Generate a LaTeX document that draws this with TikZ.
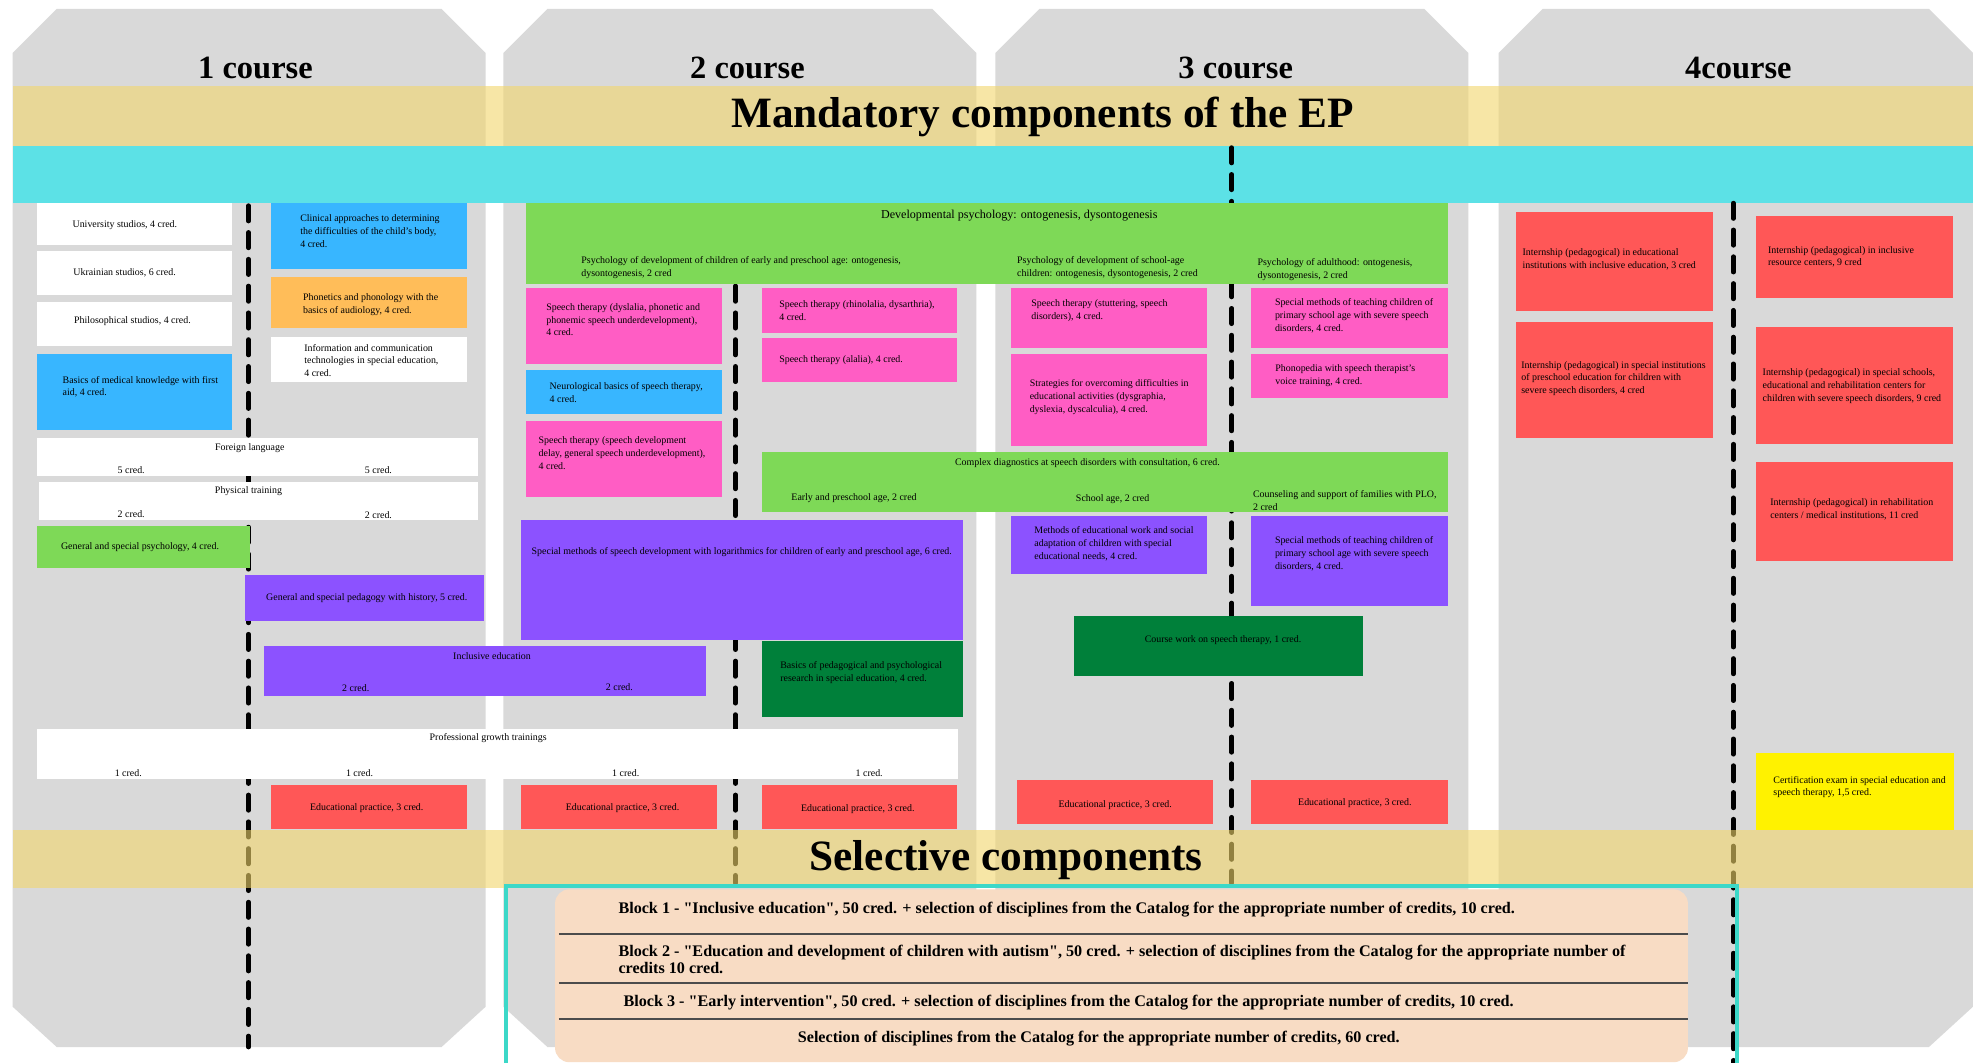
\documentclass[tikz,border=0pt]{standalone}
\usepackage{fontspec}
\setmainfont{Liberation Serif}
\usepackage{tikz}

\definecolor{colgray}{HTML}{D9D9D9}
\definecolor{bandyellow}{HTML}{F2D66B}
\definecolor{bandcyan}{HTML}{5CE1E6}
\definecolor{skyblue}{HTML}{38B6FF}
\definecolor{orangec}{HTML}{FFBD59}
\definecolor{lightgreen}{HTML}{7ED957}
\definecolor{pinkc}{HTML}{FF5DC4}
\definecolor{purplec}{HTML}{8C52FF}
\definecolor{darkgreen}{HTML}{00803A}
\definecolor{redc}{HTML}{FF5757}
\definecolor{examyellow}{HTML}{FFF200}
\definecolor{peach}{HTML}{F8DCC4}
\definecolor{frameteal}{HTML}{3CD8C8}

\tikzset{
  lbl/.style={inner sep=0pt, font=\fontsize{5.6}{7.3}\selectfont, align=left, anchor=west},
  mid/.style={inner sep=0pt, font=\fontsize{5.6}{7.3}\selectfont},
  coursehead/.style={inner sep=0pt, font=\fontsize{18.3}{20}\selectfont\bfseries},
  bandhead/.style={inner sep=0pt, font=\fontsize{24.4}{26}\selectfont\bfseries},
  blk/.style={inner sep=0pt, font=\fontsize{9.1}{9.6}\selectfont\bfseries, align=left, anchor=west},
  dashline/.style={line width=2.6pt, dash pattern=on 8.7pt off 6.4pt, line cap=round}
}

\begin{document}
\begin{tikzpicture}[x=0.025cm, y=-0.025cm]
\useasboundingbox (0,0) rectangle (1564,842.6);
\fill[white] (0,0) rectangle (1564,842.6);

% course columns
\fill[colgray] (10,42) -- (45,7) -- (350,7) -- (385,42) -- (385,798) -- (350,830) -- (45,830) -- (10,798) -- cycle;
\fill[colgray] (399,42) -- (434,7) -- (739,7) -- (774,42) -- (774,798) -- (739,830) -- (434,830) -- (399,798) -- cycle;
\fill[colgray] (789,42) -- (824,7) -- (1129,7) -- (1164,42) -- (1164,798) -- (1129,830) -- (824,830) -- (789,798) -- cycle;
\fill[colgray] (1188,42) -- (1223,7) -- (1529,7) -- (1564,42) -- (1564,798) -- (1529,830) -- (1223,830) -- (1188,798) -- cycle;

\node[coursehead] (C1) at (202.5,54) {1 course};
\node[coursehead] (C2) at (592.5,54) {2 course};
\node[coursehead] (C3) at (979.5,54) {3 course};
\node[coursehead] (C4) at (1378,54) {4course};

\fill[bandyellow, opacity=0.6] (10,68) rectangle (1564,116);
\node[bandhead] (M) at (826.5,92.5) {Mandatory components of the EP};
\fill[bandcyan] (10,116) rectangle (1564,161);

% semester dividers
\coordinate (D1a) at (197,163);
\coordinate (D1b) at (197,830);
\coordinate (D2a) at (583,163);
\coordinate (D2b) at (583,700);
\coordinate (D3a) at (976.4,117);
\coordinate (D3b) at (976.4,700);
\coordinate (D4a) at (1374,161);
\coordinate (D4b) at (1374,843);
\draw[dashline] (D1a) -- (D1b);
\draw[dashline] (D2a) -- (D2b);
\draw[dashline] (D3a) -- (D3b);
\draw[dashline] (D4a) -- (D4b);

% 1 course
\fill[white] (29,161) rectangle (184,194);
\fill[white] (29,199) rectangle (184,234);
\fill[white] (29,239.5) rectangle (184,274);
\fill[skyblue] (29,280.6) rectangle (184,341);
\fill[skyblue] (215,161) rectangle (370,213);
\fill[orangec] (215,219.7) rectangle (370,260);
\fill[white] (215,267) rectangle (370,303);
\fill[white] (29,347) rectangle (379,377);
\fill[white] (31,382) rectangle (379,412);
\fill[lightgreen] (29,416.7) rectangle (198,450);
\fill[purplec] (194,456) rectangle (384,492);
\fill[purplec] (209.5,512) rectangle (560,551.5);
\fill[white] (29,578) rectangle (759.6,617.5);
\fill[redc] (215,622) rectangle (370,657);

\node[mid] (U) at (99,178.4) {University studios, 4 cred.};
\node[mid] (UK) at (98.8,216) {Ukrainian studios, 6 cred.};
\node[mid] (PH) at (105,254.7) {Philosophical studios, 4 cred.};
\node[lbl] (MED) at (49.4,306.6) {Basics of medical knowledge with first\\aid, 4 cred.};
\node[lbl] (CLIN) at (237.8,182.9) {Clinical approaches to determining\\the difficulties of the child's body,\\4 cred.};
\node[lbl] (PHON) at (240,241.2) {Phonetics and phonology with the\\basics of audiology, 4 cred.};
\node[lbl] (ICT) at (241,285.8) {Information and communication\\technologies in special education,\\4 cred.};
\node[mid] (FL) at (198,355) {Foreign language};
\node[mid] (FL1) at (104,372.6) {5 cred.};
\node[mid] (FL2) at (300,372.6) {5 cred.};
\node[mid] (PT) at (197,389) {Physical training};
\node[mid] (PT1) at (104,407.5) {2 cred.};
\node[mid] (PT2) at (300,408) {2 cred.};
\node[mid] (GSP) at (111,433.4) {General and special psychology, 4 cred.};
\node[mid] (PED) at (290.7,473.8) {General and special pedagogy with history, 5 cred.};
\node[mid] (INC) at (390,520) {Inclusive education};
\node[mid] (INC1) at (282,545.4) {2 cred.};
\node[mid] (INC2) at (491,545) {2 cred.};
\node[mid] (PGT) at (387,585) {Professional growth trainings};
\node[mid] (PG1) at (101.7,613) {1 cred.};
\node[mid] (PG2) at (285,613) {1 cred.};
\node[mid] (PG3) at (496,612.5) {1 cred.};
\node[mid] (PG4) at (689,612.5) {1 cred.};
\node[mid] (EP1) at (290.7,640.8) {Educational practice, 3 cred.};

% 2 course
\fill[lightgreen] (417,161) rectangle (1148,225);
\fill[pinkc] (417,228) rectangle (572.5,288.6);
\fill[skyblue] (417,293) rectangle (572.5,328);
\fill[pinkc] (417,333.5) rectangle (572.5,394);
\fill[pinkc] (604,228) rectangle (759,263.7);
\fill[pinkc] (604,268) rectangle (759,303);
\fill[lightgreen] (604,358) rectangle (1148,405.6);
\fill[purplec] (413,412) rectangle (763.5,507);
\fill[darkgreen] (604,508) rectangle (763.5,568);
\fill[redc] (413,622) rectangle (568.6,657);
\fill[redc] (604,622) rectangle (759,657);

\node[mid, font=\fontsize{6.8}{8}\selectfont] (DEV) at (808,171) {Developmental psychology: ontogenesis, dysontogenesis};
\node[lbl] (DEV1) at (460.6,212) {Psychology of development of children of early and preschool age: ontogenesis,\\dysontogenesis, 2 cred};
\node[lbl] (ST1) at (432.8,253.4) {Speech therapy (dyslalia, phonetic and\\phonemic speech underdevelopment),\\4 cred.};
\node[lbl] (NEU) at (435.5,310.9) {Neurological basics of speech therapy,\\4 cred.};
\node[lbl] (ST2) at (426.7,359.2) {Speech therapy (speech development\\delay, general speech underdevelopment),\\4 cred.};
\node[lbl] (ST3) at (617.5,246.2) {Speech therapy (rhinolalia, dysarthria),\\4 cred.};
\node[lbl] (ST4) at (617.5,285.4) {Speech therapy (alalia), 4 cred.};
\node[mid] (CD) at (862,366.8) {Complex diagnostics at speech disorders with consultation, 6 cred.};
\node[mid] (CD1) at (677,394.5) {Early and preschool age, 2 cred};
\node[mid] (SM) at (588,438) {Special methods of speech development with logarithmics for children of early and preschool age, 6 cred.};
\node[lbl] (RES) at (618.3,533) {Basics of pedagogical and psychological\\research in special education, 4 cred.};
\node[mid] (EP2) at (493.5,640.8) {Educational practice, 3 cred.};
\node[mid] (EP3) at (680,641) {Educational practice, 3 cred.};

% 3 course
\fill[pinkc] (801.5,228) rectangle (957,276);
\fill[pinkc] (801.5,280.6) rectangle (957,353.5);
\fill[pinkc] (992,228) rectangle (1147.6,276);
\fill[pinkc] (992,280.6) rectangle (1147.6,315.5);
\fill[purplec] (801.5,409) rectangle (957,455);
\fill[purplec] (992,409) rectangle (1147.6,480);
\fill[darkgreen] (851.6,488) rectangle (1080.7,536);
\fill[redc] (806,618) rectangle (961.7,653);
\fill[redc] (992,618) rectangle (1147.6,653);

\node[lbl] (DEV2) at (806,212) {Psychology of development of school-age\\children: ontogenesis, dysontogenesis, 2 cred};
\node[lbl] (DEV3) at (996.6,214) {Psychology of adulthood: ontogenesis,\\dysontogenesis, 2 cred};
\node[lbl] (ST5) at (817.3,246.2) {Speech therapy (stuttering, speech\\disorders), 4 cred.};
\node[lbl] (STR) at (816,314.9) {Strategies for overcoming difficulties in\\educational activities (dysgraphia,\\dyslexia, dyscalculia), 4 cred.};
\node[lbl] (SMT1) at (1010.4,250.2) {Special methods of teaching children of\\primary school age with severe speech\\disorders, 4 cred.};
\node[lbl] (PHO) at (1010.7,297.6) {Phonopedia with speech therapist's\\voice training, 4 cred.};
\node[mid] (CD2) at (882,396) {School age, 2 cred};
\node[lbl] (CD3) at (993,396.9) {Counseling and support of families with PLO,\\2 cred};
\node[lbl] (MEW) at (819.7,431.2) {Methods of educational work and social\\adaptation of children with special\\educational needs, 4 cred.};
\node[lbl] (SMT2) at (1010.4,439.2) {Special methods of teaching children of\\primary school age with severe speech\\disorders, 4 cred.};
\node[mid] (CW) at (969.5,507.3) {Course work on speech therapy, 1 cred.};
\node[mid] (EP4) at (884,638) {Educational practice, 3 cred.};
\node[mid] (EP5) at (1074,636.8) {Educational practice, 3 cred.};

% 4 course
\fill[redc] (1202,167.8) rectangle (1357.6,246.3);
\fill[redc] (1202,255) rectangle (1357.6,347);
\fill[redc] (1392,171) rectangle (1548,236);
\fill[redc] (1392,259) rectangle (1548,352);
\fill[redc] (1392,366) rectangle (1548,445);
\fill[examyellow] (1392,596.6) rectangle (1549,658);

\node[lbl] (IN1) at (1206.7,205.6) {Internship (pedagogical) in educational\\institutions with inclusive education, 3 cred};
\node[lbl] (IN2) at (1205.7,300.1) {Internship (pedagogical) in special institutions\\of preschool education for children with\\severe speech disorders, 4 cred};
\node[lbl] (IN3) at (1401.2,203.6) {Internship (pedagogical) in inclusive\\resource centers, 9 cred};
\node[lbl] (IN4) at (1397,305.9) {Internship (pedagogical) in special schools,\\educational and rehabilitation centers for\\children with severe speech disorders, 9 cred};
\node[lbl] (IN5) at (1403,403.4) {Internship (pedagogical) in rehabilitation\\centers / medical institutions, 11 cred};
\node[lbl] (EX) at (1405.5,623.9) {Certification exam in special education and\\speech therapy, 1,5 cred.};

% selective part
\fill[bandyellow, opacity=0.6] (10,658) rectangle (1564,704);
\node[bandhead] (S) at (797.5,681.7) {Selective components};
\draw[frameteal, line width=2.2pt] (401,843) -- (401,702.5) -- (1377,702.5) -- (1377,843);
\fill[peach, rounded corners=8pt] (440,705) rectangle (1338,842);
\draw[line width=1.2pt, black!70] (443,740.4) -- (1338,740.4);
\draw[line width=1.2pt, black!70] (443,779.5) -- (1338,779.5);
\draw[line width=1.2pt, black!70] (443,807.5) -- (1338,807.5);

\node[blk] (B1) at (490,721.4) {Block 1 - \textquotedbl Inclusive education\textquotedbl, 50 cred. + selection of disciplines from the Catalog for the appropriate number of credits, 10 cred.};
\node[blk] (B2) at (490,760.2) {Block 2 - \textquotedbl Education and development of children with autism\textquotedbl, 50 cred. + selection of disciplines from the Catalog for the appropriate number of\\credits 10 cred.};
\node[blk] (B3) at (494,794.8) {Block 3 - \textquotedbl Early intervention\textquotedbl, 50 cred. + selection of disciplines from the Catalog for the appropriate number of credits, 10 cred.};
\node[blk, anchor=center] (B4) at (871,823.4) {Selection of disciplines from the Catalog for the appropriate number of credits, 60 cred.};
\end{tikzpicture}
\end{document}
